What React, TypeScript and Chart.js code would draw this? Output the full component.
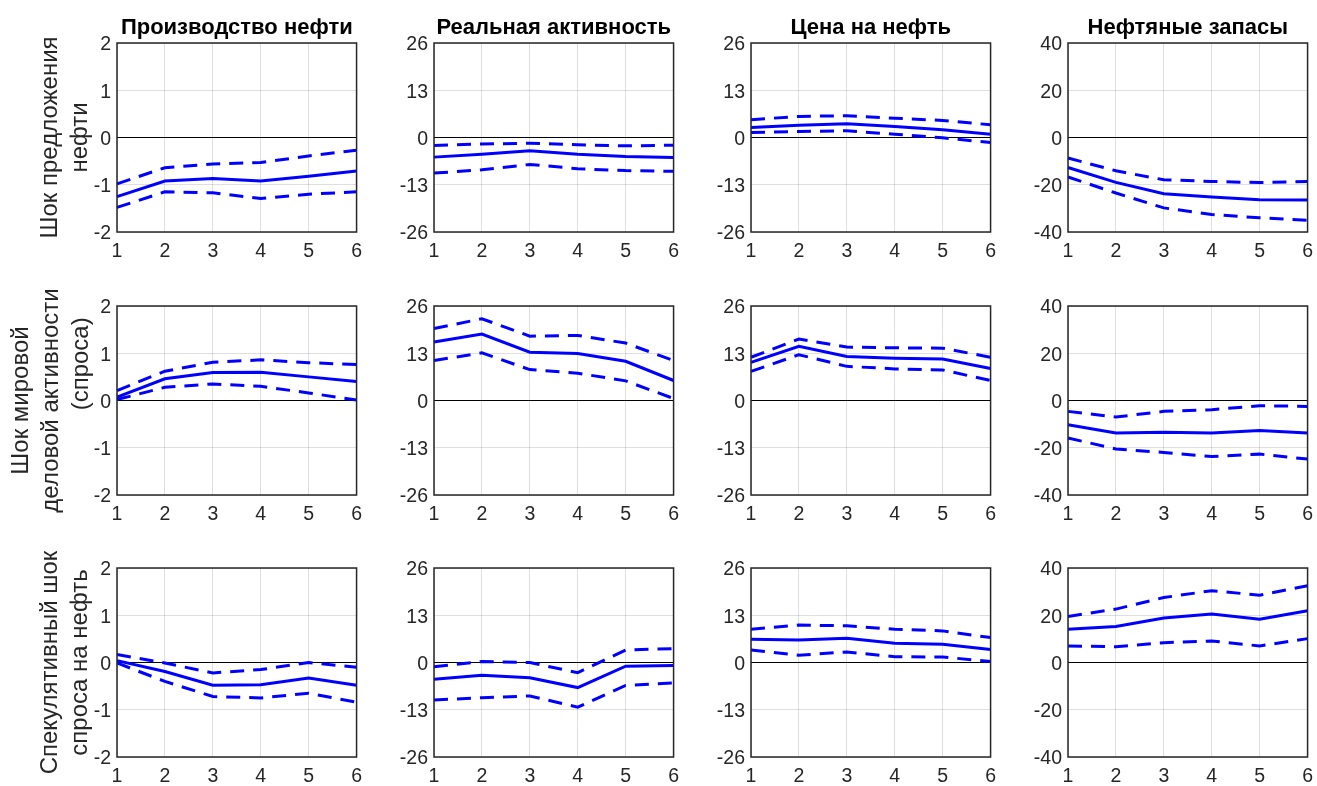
import React, { useEffect, useRef } from "react";
import { Chart, registerables } from "chart.js";

Chart.register(...registerables);

// Horizons (x-axis categories)
const horizons = ["1", "2", "3", "4", "5", "6"];

// Column titles (responding variables)
const variableTitles = ["Производство нефти", "Реальная активность", "Цена на нефть", "Нефтяные запасы"];

// Row labels (structural shocks); the last line of the second label is padded so it sits above centre
const shockLabels = [
  ["Шок предложения", "нефти"],
  ["Шок мировой", "деловой активности", "           (спроса)"],
  ["Спекулятивный шок", "спроса на нефть"],
];

// Y-axis tick values per column
const prodTicks = [-2, -1, 0, 1, 2];
const reaTicks = [-26, -13, 0, 13, 26];
const priceTicks = [-26, -13, 0, 13, 26];
const invTicks = [-40, -20, 0, 20, 40];

// Oil supply shock: median response and confidence bands
const supplyProdMid = [-1.25, -0.92, -0.87, -0.92, -0.82, -0.71];
const supplyProdHi = [-0.98, -0.64, -0.56, -0.53, -0.39, -0.27];
const supplyProdLo = [-1.48, -1.15, -1.17, -1.29, -1.2, -1.15];
const supplyReaMid = [-5.4, -4.6, -3.65, -4.6, -5.2, -5.5];
const supplyReaHi = [-2.2, -1.8, -1.55, -2.0, -2.3, -2.1];
const supplyReaLo = [-9.8, -8.9, -7.4, -8.6, -9.1, -9.3];
const supplyPriceMid = [2.75, 3.4, 3.75, 3.0, 2.1, 0.9];
const supplyPriceHi = [4.9, 5.8, 6.0, 5.3, 4.7, 3.5];
const supplyPriceLo = [1.4, 1.65, 1.85, 0.9, -0.1, -1.4];
const supplyInvMid = [-12.7, -19.0, -23.8, -25.2, -26.3, -26.5];
const supplyInvHi = [-8.7, -14.1, -17.9, -18.6, -19.1, -18.6];
const supplyInvLo = [-16.7, -23.5, -29.8, -32.6, -34.0, -35.0];

// Global activity (demand) shock
const demandProdMid = [0.07, 0.46, 0.59, 0.6, 0.5, 0.4];
const demandProdHi = [0.21, 0.62, 0.81, 0.86, 0.8, 0.76];
const demandProdLo = [0.02, 0.28, 0.35, 0.3, 0.16, 0.01];
const demandReaMid = [16.1, 18.3, 13.3, 12.9, 10.8, 5.5];
const demandReaHi = [19.8, 22.5, 17.7, 17.9, 15.8, 11.0];
const demandReaLo = [11.0, 13.1, 8.5, 7.5, 5.4, 0.55];
const demandPriceMid = [10.5, 14.9, 12.1, 11.65, 11.4, 8.8];
const demandPriceHi = [11.9, 16.9, 14.7, 14.5, 14.4, 11.9];
const demandPriceLo = [8.0, 12.6, 9.4, 8.7, 8.4, 5.5];
const demandInvMid = [-10.3, -13.8, -13.4, -13.8, -12.7, -13.8];
const demandInvHi = [-4.6, -7.0, -4.6, -3.9, -2.2, -2.5];
const demandInvLo = [-15.9, -20.5, -22.0, -23.7, -22.7, -24.8];

// Speculative oil demand shock
const specProdMid = [0.04, -0.19, -0.48, -0.47, -0.33, -0.48];
const specProdHi = [0.17, -0.01, -0.22, -0.15, 0.0, -0.1];
const specProdLo = [-0.01, -0.4, -0.72, -0.75, -0.65, -0.84];
const specReaMid = [-4.6, -3.5, -4.2, -6.9, -1.0, -0.8];
const specReaHi = [-1.15, 0.3, 0.0, -2.8, 3.45, 3.8];
const specReaLo = [-10.3, -9.7, -9.2, -12.3, -6.3, -5.6];
const specPriceMid = [6.4, 6.2, 6.7, 5.3, 5.0, 3.6];
const specPriceHi = [9.15, 10.3, 10.1, 9.15, 8.7, 6.85];
const specPriceLo = [3.45, 2.0, 2.9, 1.6, 1.5, 0.3];
const specInvMid = [14.1, 15.2, 18.8, 20.5, 18.3, 21.9];
const specInvHi = [19.5, 22.6, 27.5, 30.4, 28.5, 32.5];
const specInvLo = [7.0, 6.7, 8.4, 9.1, 7.0, 10.1];

const columnTicks = [prodTicks, reaTicks, priceTicks, invTicks];

const panelSeries = [
  [
    [supplyProdMid, supplyProdHi, supplyProdLo],
    [supplyReaMid, supplyReaHi, supplyReaLo],
    [supplyPriceMid, supplyPriceHi, supplyPriceLo],
    [supplyInvMid, supplyInvHi, supplyInvLo],
  ],
  [
    [demandProdMid, demandProdHi, demandProdLo],
    [demandReaMid, demandReaHi, demandReaLo],
    [demandPriceMid, demandPriceHi, demandPriceLo],
    [demandInvMid, demandInvHi, demandInvLo],
  ],
  [
    [specProdMid, specProdHi, specProdLo],
    [specReaMid, specReaHi, specReaLo],
    [specPriceMid, specPriceHi, specPriceLo],
    [specInvMid, specInvHi, specInvLo],
  ],
];

// Layout of the plot areas
const COL_LEFT = [117, 434, 751, 1068];
const ROW_TOP = [43, 306, 568];
const PLOT_W = 241;
const PLOT_H = 189;
const RIGHT_PAD = 12;
const BOTTOM_H = 34;

const FONT_FAMILY = "'Liberation Sans', Arial, Helvetica, sans-serif";
const TEXT_COLOR = "#262626";
const GRID_COLOR = "rgba(38,38,38,0.15)";
const LINE_COLOR = "#0000ff";

const framePlugin = {
  id: "panelFrame",
  afterDatasetsDraw(chart: any) {
    const { ctx, chartArea } = chart;
    const { left, top, right, bottom } = chartArea;
    ctx.save();
    ctx.strokeStyle = TEXT_COLOR;
    ctx.lineWidth = 1.5;
    ctx.strokeRect(left, top, right - left, bottom - top);
    ctx.restore();
  },
};

function Panel({ row, col }: { row: number; col: number }) {
  const ref = useRef<HTMLCanvasElement | null>(null);
  const axisW = col === 0 ? COL_LEFT[0] : 60;
  const topH = row === 0 ? ROW_TOP[0] : 20;
  const left = COL_LEFT[col] - axisW;
  const top = ROW_TOP[row] - topH;
  const width = axisW + PLOT_W + RIGHT_PAD;
  const height = topH + PLOT_H + BOTTOM_H;

  useEffect(() => {
    if (!ref.current) return;
    const [mid, hi, lo] = panelSeries[row][col];
    const ticks = columnTicks[col];
    const yMin = ticks[0];
    const yMax = ticks[ticks.length - 1];
    const step = ticks[1] - ticks[0];
    const labelLines = shockLabels[row];

    const chart = new Chart(ref.current, {
      type: "line",
      data: {
        labels: horizons,
        datasets: [
          { data: mid, borderColor: LINE_COLOR, borderWidth: 3, pointRadius: 0, fill: false, tension: 0 },
          { data: hi, borderColor: LINE_COLOR, borderWidth: 3, borderDash: [14, 9], pointRadius: 0, fill: false, tension: 0 },
          { data: lo, borderColor: LINE_COLOR, borderWidth: 3, borderDash: [14, 9], pointRadius: 0, fill: false, tension: 0 },
        ],
      },
      options: {
        responsive: false,
        maintainAspectRatio: false,
        animation: false,
        devicePixelRatio: 1,
        layout: { padding: { top: row === 0 ? 0 : topH, right: RIGHT_PAD, left: 0, bottom: 0 } },
        plugins: {
          legend: { display: false },
          tooltip: { enabled: false },
          title: {
            display: row === 0,
            text: variableTitles[col],
            fullSize: false,
            color: "#000",
            font: { family: FONT_FAMILY, size: 22, weight: "bold", lineHeight: 1.2 },
            padding: { top: 15, bottom: 1.6 },
          },
        },
        scales: {
          x: {
            type: "category",
            offset: false,
            grid: { color: GRID_COLOR, lineWidth: 1, drawTicks: false },
            border: { display: false },
            ticks: {
              color: TEXT_COLOR,
              font: { family: FONT_FAMILY, size: 19.5 },
              padding: 8,
              maxRotation: 0,
              autoSkip: false,
            },
            afterFit: (s: any) => {
              s.height = BOTTOM_H;
            },
          },
          y: {
            min: yMin,
            max: yMax,
            grid: {
              color: (c: any) => (c.tick && c.tick.value === 0 ? "#000" : GRID_COLOR),
              lineWidth: 1,
              drawTicks: false,
            },
            border: { display: false },
            ticks: {
              stepSize: step,
              color: TEXT_COLOR,
              font: { family: FONT_FAMILY, size: 19.5 },
              padding: 6,
              labelOffset: 2,
            },
            title: {
              display: col === 0,
              text: labelLines,
              color: TEXT_COLOR,
              font: { family: FONT_FAMILY, size: 24, lineHeight: 1.25 },
              padding: { top: labelLines.length === 3 ? 6 : 35, bottom: 0 },
            },
            afterFit: (s: any) => {
              s.width = axisW;
            },
          },
        },
      },
      plugins: [framePlugin],
    } as any);
    return () => chart.destroy();
  }, [row, col, axisW]);

  return (
    <canvas
      ref={ref}
      width={width}
      height={height}
      style={{ position: "absolute", left, top, width, height }}
    />
  );
}

export default function App() {
  const cells: React.ReactElement[] = [];
  for (let r = 0; r < 3; r++) {
    for (let c = 0; c < 4; c++) {
      cells.push(<Panel key={`${r}-${c}`} row={r} col={c} />);
    }
  }
  return (
    <div
      style={{
        position: "absolute",
        left: 0,
        top: 0,
        width: 1317,
        height: 786,
        background: "#fff",
        overflow: "hidden",
      }}
    >
      {cells}
    </div>
  );
}
